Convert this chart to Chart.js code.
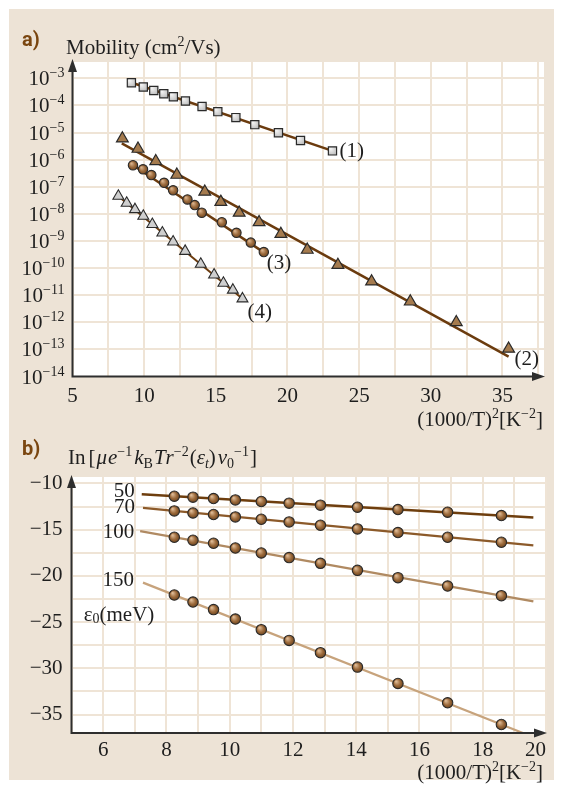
<!DOCTYPE html>
<html><head><meta charset="utf-8">
<script src="https://cdn.jsdelivr.net/npm/chart.js@4/dist/chart.umd.min.js"></script>
<style>
html,body{margin:0;padding:0;background:#fff;width:563px;height:787px;overflow:hidden;}
#bg{position:absolute;left:9px;top:9px;width:545px;height:771px;background:#ede3d6;}
#ca{position:absolute;left:0;top:0;}
#cb{position:absolute;left:0;top:435px;}
</style></head><body>
<div id="bg"></div>
<canvas id="ca" width="563" height="435"></canvas>
<canvas id="cb" width="563" height="352"></canvas>
<script>
// ---------- Panel a data: (1000/T)^2 and mobility (cm^2/Vs) ----------
const s1X  = [9.11, 9.94, 10.67, 11.37, 12.04, 12.88, 14.04, 15.14, 16.40, 17.72, 19.37, 20.91, 23.14];
const s1Mu = [6.9e-4, 4.8e-4, 3.55e-4, 2.7e-4, 2.1e-4, 1.45e-4, 9.1e-5, 5.9e-5, 3.55e-5, 1.95e-5, 9.8e-6, 5.1e-6, 2.1e-6];
const s2X  = [8.48, 9.57, 10.81, 12.28, 14.23, 15.35, 16.63, 18.02, 19.54, 21.38, 23.52, 25.87, 28.57, 31.78, 35.43];
const s2Mu = [6.0e-6, 2.5e-6, 8.7e-7, 2.75e-7, 6.5e-8, 2.75e-8, 1.1e-8, 4.9e-9, 1.8e-9, 4.7e-10, 1.3e-10, 3.2e-11, 5.8e-12, 1.0e-12, 1.05e-13];
const s3X  = [9.22, 9.92, 10.50, 11.39, 12.02, 13.02, 13.53, 14.02, 15.42, 16.44, 17.44, 18.35];
const s3Mu = [6.2e-7, 4.4e-7, 2.7e-7, 1.4e-7, 7.4e-8, 3.4e-8, 2.1e-8, 1.1e-8, 4.9e-9, 2.0e-9, 8.7e-10, 3.9e-10];
const s4X  = [8.20, 8.78, 9.36, 9.94, 10.57, 11.27, 12.02, 12.86, 13.95, 14.88, 15.53, 16.19, 16.86];
const s4Mu = [4.5e-8, 2.5e-8, 1.45e-8, 8.3e-9, 4.1e-9, 2.0e-9, 9.3e-10, 4.2e-10, 1.4e-10, 5.6e-11, 2.8e-11, 1.55e-11, 7.4e-12];
// fitted lines (end points)
const fit1X = [9.11, 23.14];  const fit1Mu = [7.0e-4, 2.1e-6];
const fit2X = [8.44, 35.43];  const fit2Mu = [4.0e-6, 5.4e-14];
const fit3X = [9.20, 18.35];  const fit3Mu = [6.3e-7, 3.8e-10];
const fit4X = [8.20, 16.86];  const fit4Mu = [4.5e-8, 7.4e-12];
const curveLabelsA = ['(1)', '(2)', '(3)', '(4)'];
const xTicksA = [5, 7.5, 10, 12.5, 15, 17.5, 20, 22.5, 25, 27.5, 30, 32.5, 35, 37.5];
const yTicksA = [1e-14, 1e-13, 1e-12, 1e-11, 1e-10, 1e-9, 1e-8, 1e-7, 1e-6, 1e-5, 1e-4, 1e-3];
const yExpA   = [-14, -13, -12, -11, -10, -9, -8, -7, -6, -5, -4, -3];

// ---------- Panel b data ----------
const bX    = [8.25, 8.84, 9.49, 10.18, 11.00, 11.88, 12.87, 14.04, 15.32, 16.89, 18.59];
const b50   = [-11.38, -11.48, -11.63, -11.78, -11.95, -12.13, -12.35, -12.57, -12.82, -13.11, -13.47];
const b70   = [-12.97, -13.19, -13.36, -13.62, -13.87, -14.16, -14.52, -14.92, -15.31, -15.82, -16.36];
const b100  = [-15.82, -16.14, -16.47, -16.98, -17.52, -18.02, -18.64, -19.40, -20.19, -21.10, -22.14];
const b150  = [-22.07, -22.83, -23.65, -24.67, -25.82, -26.98, -28.31, -29.87, -31.64, -33.73, -36.08];
const fit50X  = [7.22, 19.60]; const fit50Y  = [-11.17, -13.67];
const fit70X  = [7.26, 19.60]; const fit70Y  = [-12.65, -16.69];
const fit100X = [7.17, 19.60]; const fit100Y = [-15.15, -22.76];
const fit150X = [7.26, 19.27]; const fit150Y = [-20.73, -37.00];
const eps0Labels = ['50', '70', '100', '150'];
const xTicksB = [5, 6, 7, 8, 9, 10, 11, 12, 13, 14, 15, 16, 17, 18, 19, 20];
const yTicksB = [-35, -32.5, -30, -27.5, -25, -22.5, -20, -17.5, -15, -12.5, -10];

// ---------- helpers ----------
const SERIF = '"Liberation Serif", "Times New Roman", serif';
const GRID = '#efe4d6';
const INK = '#1e1e1e';
const FS = 21;
const pts = (xs, ys) => xs.map((x, i) => ({x: x, y: ys[i]}));

function rich(ctx, x, y, segs, align) {
  let w = 0;
  segs.forEach(s => { ctx.font = s[1]; w += ctx.measureText(s[0]).width + (s[3] || 0); });
  if (align === 'right') x -= w;
  if (align === 'center') x -= w / 2;
  ctx.textAlign = 'left'; ctx.textBaseline = 'alphabetic';
  segs.forEach(s => { ctx.font = s[1]; ctx.fillText(s[0], x, y + (s[2] || 0)); x += ctx.measureText(s[0]).width + (s[3] || 0); });
}
function ball(base, light, dark) {
  return function (c) {
    if (!c.parsed || !c.chart.scales) return base;
    const ch = c.chart, ds = ch.data.datasets[c.datasetIndex];
    const sx = ch.scales.x, sy = ch.scales.y;
    if (!sx || !sy || sx.getPixelForValue == null) return base;
    const px = sx.getPixelForValue(c.parsed.x), py = sy.getPixelForValue(c.parsed.y);
    if (!isFinite(px) || !isFinite(py)) return base;
    const r = ds.pointRadius || 5;
    const g = ch.ctx.createRadialGradient(px - r * 0.35, py - r * 0.4, r * 0.1, px, py, r * 1.05);
    g.addColorStop(0, light); g.addColorStop(0.55, base); g.addColorStop(1, dark);
    return g;
  };
}
function drawAxes(chart, tipTop) {
  const {ctx, chartArea: a} = chart;
  ctx.save();
  ctx.strokeStyle = '#2e2e2e'; ctx.fillStyle = '#2e2e2e'; ctx.lineWidth = 2;
  ctx.beginPath();
  ctx.moveTo(a.left, a.bottom); ctx.lineTo(a.left, a.top + 6);
  ctx.moveTo(a.left - 1, a.bottom); ctx.lineTo(a.right - 6, a.bottom);
  ctx.stroke();
  ctx.beginPath(); ctx.moveTo(a.left, a.top - tipTop); ctx.lineTo(a.left - 4.5, a.top - tipTop + 13); ctx.lineTo(a.left + 4.5, a.top - tipTop + 13); ctx.closePath(); ctx.fill();
  ctx.beginPath(); ctx.moveTo(a.right + 1, a.bottom); ctx.lineTo(a.right - 12, a.bottom - 4.5); ctx.lineTo(a.right - 12, a.bottom + 4.5); ctx.closePath(); ctx.fill();
  ctx.restore();
}
const whiteArea = {
  id: 'whiteArea',
  beforeDraw(chart) {
    const {ctx, chartArea: a} = chart;
    ctx.save(); ctx.fillStyle = '#ffffff';
    ctx.fillRect(a.left, a.top, a.right - a.left, a.bottom - a.top);
    ctx.restore();
  }
};
const FM = FS + 'px ' + SERIF, FSUP = '14px ' + SERIF, FSUB = '14px ' + SERIF;
const FI = 'italic ' + FS + 'px ' + SERIF;
const BOLD = 'bold 20px "Liberation Sans Narrow", "Roboto", "Liberation Sans", sans-serif';

function xScale(min, max, ticks, labelFn, pad, align) {
  return {
    type: 'linear', min: min, max: max,
    afterBuildTicks: s => { s.ticks = ticks.map(v => ({value: v})); },
    afterFit: s => { s.height = 40; },
    grid: {color: GRID, lineWidth: 2, drawTicks: false},
    border: {display: false},
    ticks: {padding: pad, align: align || 'center', color: INK, autoSkip: false, maxRotation: 0, font: {family: SERIF, size: FS}, callback: labelFn}
  };
}
const xTitle = [['(1000/T)', FM], ['2', FSUP, -8], ['[K', FM], ['\u22122', FSUP, -8], [']', FM]];

// ---------- Panel a ----------
const markerBorder = '#2a2a2a';
new Chart(document.getElementById('ca'), {
  type: 'scatter',
  data: {datasets: [
    {data: pts(s1X, s1Mu), pointStyle: 'rect', pointRadius: 5.8, pointBackgroundColor: ball('#cfcfcf', '#f2f2f2', '#a9a9a9'), pointBorderColor: markerBorder, pointBorderWidth: 1.2, order: 0},
    {data: pts(s2X, s2Mu), pointStyle: 'triangle', pointRadius: 6.8, pointBackgroundColor: '#a57b4e', pointBorderColor: markerBorder, pointBorderWidth: 1.2, order: 0},
    {data: pts(s3X, s3Mu), pointStyle: 'circle', pointRadius: 4.7, pointBackgroundColor: ball('#9b6a3c', '#d7b08a', '#6e4520'), pointBorderColor: markerBorder, pointBorderWidth: 1.1, order: 0},
    {data: pts(s4X, s4Mu), pointStyle: 'triangle', pointRadius: 6.3, pointBackgroundColor: '#cfcfcf', pointBorderColor: markerBorder, pointBorderWidth: 1.1, order: 0},
    {data: pts(fit1X, fit1Mu), showLine: true, pointRadius: 0, borderColor: '#6b3b0e', borderWidth: 2.5, order: 1},
    {data: pts(fit2X, fit2Mu), showLine: true, pointRadius: 0, borderColor: '#6b3b0e', borderWidth: 2.5, order: 1},
    {data: pts(fit3X, fit3Mu), showLine: true, pointRadius: 0, borderColor: '#6b3b0e', borderWidth: 2.5, order: 1},
    {data: pts(fit4X, fit4Mu), showLine: true, pointRadius: 0, borderColor: '#6b3b0e', borderWidth: 2, order: 1}
  ]},
  options: {
    responsive: false, animation: false, devicePixelRatio: 1,
    plugins: {legend: {display: false}, tooltip: {enabled: false}},
    layout: {padding: {left: 12.5, right: 19, top: 62, bottom: 18.5}},
    scales: {
      x: xScale(5, 37.9, xTicksA, v => (v % 5 === 0 ? String(v) : ''), 7),
      y: {
        type: 'logarithmic', min: 1e-14, max: 4e-3,
        afterBuildTicks: s => { s.ticks = yTicksA.map(v => ({value: v})); },
        afterFit: s => { s.width = 60; },
        grid: {color: GRID, lineWidth: 2, drawTicks: false},
        border: {display: false},
        ticks: {padding: 7, autoSkip: false, font: {family: SERIF, size: FS}, callback: () => ''}
      }
    }
  },
  plugins: [whiteArea, {
    id: 'decorA',
    afterDraw(chart) {
      const ctx = chart.ctx, a = chart.chartArea;
      drawAxes(chart, 3);
      ctx.save();
      ctx.fillStyle = '#7a4610'; ctx.font = BOLD; ctx.textBaseline = 'alphabetic'; ctx.textAlign = 'left';
      ctx.fillText('a)', 22, 46);
      ctx.fillStyle = INK;
      const sx = chart.scales.x, sy = chart.scales.y;
      // y tick labels 10^n with true superscripts, placed by the log scale
      yTicksA.forEach((v, i) => {
        rich(ctx, a.left - 8, sy.getPixelForValue(v) + 7, [['10', FM], ['\u2212' + Math.abs(yExpA[i]), FSUP, -8]], 'right');
      });
      rich(ctx, 66, 54, [['Mobility (cm', FM], ['2', FSUP, -8], ['/Vs)', FM]]);
      rich(ctx, 543, 426, xTitle, 'right');
      // curve labels anchored at last marker of each series
      const anchors = [[s1X, s1Mu, 7, 1], [s2X, s2Mu, 6, 11], [s3X, s3Mu, 3, 11], [s4X, s4Mu, 5, 14]];
      ctx.font = FM; ctx.textBaseline = 'middle'; ctx.textAlign = 'left';
      anchors.forEach((an, i) => {
        const n = an[0].length - 1;
        ctx.fillText(curveLabelsA[i], sx.getPixelForValue(an[0][n]) + an[2], sy.getPixelForValue(an[1][n]) + an[3]);
      });
      ctx.restore();
    }
  }]
});

// ---------- Panel b ----------
const ballB = ball('#9c6a3b', '#dcb893', '#6a421d');
const bDs = (ys) => ({data: pts(bX, ys), pointStyle: 'circle', pointRadius: 5.2, pointBackgroundColor: ballB, pointBorderColor: markerBorder, pointBorderWidth: 1.1, order: 0});
const bLine = (xs, ys, col, w) => ({data: pts(xs, ys), showLine: true, pointRadius: 0, borderColor: col, borderWidth: w, order: 1});
new Chart(document.getElementById('cb'), {
  type: 'scatter',
  data: {datasets: [
    bDs(b50), bDs(b70), bDs(b100), bDs(b150),
    bLine(fit50X, fit50Y, '#6e3e0e', 2.5),
    bLine(fit70X, fit70Y, '#8c5a2a', 2.2),
    bLine(fit100X, fit100Y, '#b08a62', 2.2),
    bLine(fit150X, fit150Y, '#c7a37c', 2.2)
  ]},
  options: {
    responsive: false, animation: false, devicePixelRatio: 1,
    plugins: {legend: {display: false}, tooltip: {enabled: false}},
    layout: {padding: {left: 11.5, right: 17, top: 42, bottom: 14}},
    scales: {
      x: xScale(5, 20, xTicksB, v => (v % 2 === 0 ? String(v) : ''), 5, 'inner'),
      y: {
        type: 'linear', min: -37, max: -9.3,
        afterBuildTicks: s => { s.ticks = yTicksB.map(v => ({value: v})); },
        afterFit: s => { s.width = 60; },
        grid: {color: GRID, lineWidth: 2, drawTicks: false},
        border: {display: false},
        ticks: {padding: 9, color: INK, autoSkip: false, font: {family: SERIF, size: FS},
                callback: v => (v % 5 === 0 ? '\u2212' + Math.abs(v) : '')}
      }
    }
  },
  plugins: [whiteArea, {
    id: 'decorB',
    afterDraw(chart) {
      const ctx = chart.ctx;
      drawAxes(chart, 2);
      ctx.save();
      ctx.fillStyle = '#7a4610'; ctx.font = BOLD; ctx.textBaseline = 'alphabetic'; ctx.textAlign = 'left';
      ctx.fillText('b)', 22, 20);
      ctx.fillStyle = INK;
      rich(ctx, 68, 29, [
        ['In', FM, 0, 3], ['[', FM, 0, 1], ['\u03BC', FI, 0, 1], ['e', FI], ['\u22121', FSUP, -8, 2],
        ['k', FI], ['B', FSUB, 4, 1], ['T', FI], ['r', FI], ['\u22122', FSUP, -8, 1],
        ['(', FM], ['\u03B5', FI], ['t', 'italic 14px ' + SERIF, 4], [')', FM, 0, 2],
        ['v', FI], ['0', FSUB, 4], ['\u22121', FSUP, -8, 1], [']', FM]
      ]);
      rich(ctx, 543, 344, xTitle, 'right');
      const sx = chart.scales.x, sy = chart.scales.y;
      const starts = [[fit50X, fit50Y, -7, -3], [fit70X, fit70Y, -8, 0], [fit100X, fit100Y, -6, 1], [fit150X, fit150Y, -9, -2]];
      ctx.font = FM; ctx.textBaseline = 'middle'; ctx.textAlign = 'right';
      starts.forEach((s, i) => {
        ctx.fillText(eps0Labels[i], sx.getPixelForValue(s[0][0]) + s[2], sy.getPixelForValue(s[1][0]) + s[3]);
      });
      const ex = sx.getPixelForValue(fit150X[0]) - 24, ey = sy.getPixelForValue(fit150Y[0]) + 38;
      rich(ctx, ex, ey, [['\u03B5', FM], ['0', FSUB, 2], ['(meV)', FM]], 'center');
      ctx.restore();
    }
  }]
});
</script>
</body></html>
